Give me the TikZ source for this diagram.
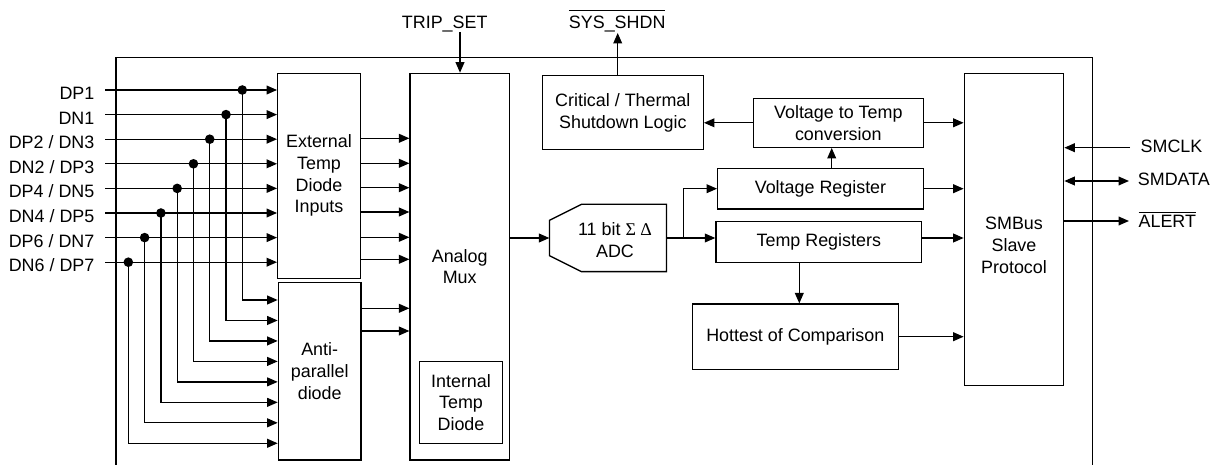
\documentclass[tikz,border=0pt]{standalone}
\usepackage{fontspec}
\setmainfont{Liberation Sans}
\newfontfamily\greekf{Liberation Serif}
\usetikzlibrary{arrows.meta}
\newcommand\ovl[2][2.5pt]{\vbox{\hrule height 1.2pt\kern#1\hbox{#2}}}
\begin{document}
\begin{tikzpicture}[x=1pt,y=-1pt,line width=1.3pt,
    font=\fontsize{17.9}{21.7}\selectfont,
    >={Triangle[length=10.5pt,width=8.8pt]},
    blk/.style 2 args={draw,align=center,inner sep=0pt,minimum width=#1pt,minimum height=#2pt},
    pin/.style={inner sep=0pt}]
  \useasboundingbox (0,0) rectangle (1219,465);
  \draw (116,465) |- (1092.7,57.3) -- (1092.7,465);
  \node[blk={82.6}{205}] (ext) at (319,175.8) {External\\Temp\\Diode\\Inputs};
  \node[blk={82.7}{177.7}] (anti) at (319.7,371.2) {Anti-\\parallel\\diode};
  \node[blk={99.3}{386.7}] (mux) at (459.7,266.7) {Analog\\Mux};
  \node[blk={83.4}{81.6}] (itd) at (461,402.5) {Internal\\Temp\\Diode};
  \node[blk={161}{74}] (crit) at (622.8,112.7) {Critical / Thermal\\Shutdown Logic};
  \node[blk={170}{49}] (v2t) at (838.3,122.8) {Voltage to Temp\\conversion};
  \node[blk={205.6}{40.7}] (vreg) at (820.5,188.7) {Voltage Register};
  \node[blk={205.7}{41}] (treg) at (818.8,242.2) {Temp Registers};
  \node[blk={206}{65.3}] (hot) at (795.3,336.7) {Hottest of Comparison};
  \node[blk={99.4}{312.4}] (smb) at (1014,229.5) {};
  \node[align=center] (smblab) at (1014,245.3) {SMBus\\Slave\\Protocol};
  \node[blk={115.7}{66},draw=none] (adc) at (607.9,238) {};
  \draw ([yshift=-16pt]adc.north west) -- ([xshift=32pt]adc.north west) -- (adc.north east)
    -- (adc.south east) -- ([xshift=32pt]adc.south west) -- ([yshift=16pt]adc.south west) -- cycle;
  \node[align=center] (adclab) at (615,240) {11 bit {\greekf Σ Δ}\\ADC};
  \foreach \lab [count=\i] in {DP1,DN1,{DP2 / DN3},{DN2 / DP3},{DP4 / DN5},{DN4 / DP5},{DP6 / DN7},{DN6 / DP7}}{
    \pgfmathsetmacro\yin{90+(\i-1)*24.6}
    \pgfmathsetmacro\yap{300+(\i-1)*20.47}
    \coordinate (in\i) at (105,\yin);
    \coordinate (dot\i) at ({242.3-(\i-1)*16.28},\yin);
    \coordinate (ap\i) at (anti.west |- 0,\yap);
    \node[pin,anchor=base east] (lab\i) at ([xshift=-10pt,yshift=-9.5pt]in\i) {\lab};
    \draw[->] (in\i) -- (in\i -| ext.west);
    \fill (dot\i) circle (4.8);
    \draw[->] (dot\i) |- (ap\i);
  }
  \foreach \y in {138.3,163.3,187.7,212,237.3,259.3}
    \draw[->] (ext.east |- 0,\y) -- (mux.west |- 0,\y);
  \foreach \y in {308.3,331}
    \draw[->] (anti.east |- 0,\y) -- (mux.west |- 0,\y);
  \node[pin,anchor=base] (trip) at (444.7,28.3) {TRIP\_SET};
  \coordinate (tripin) at (460,32);
  \draw[->] (tripin) -- (tripin |- mux.north);
  \node[pin,anchor=base] (shdn) at (617.2,28.3) {\ovl[5pt]{SYS\_SHDN}};
  \coordinate (shdnin) at (617.7,33);
  \draw[->] (shdnin |- crit.north) -- (shdnin);
  \draw[->] (mux.east |- adc.west) -- (adc.west);
  \coordinate (split) at ([xshift=17pt]adc.east);
  \draw[->] (adc.east) -- (adc.east -| treg.west);
  \draw[->] (split) |- (vreg.west);
  \coordinate (vup) at ([xshift=11.2pt]vreg.north);
  \draw[->] (vup) -- (vup |- v2t.south);
  \draw[->] (v2t.west) -- (v2t.west -| crit.east);
  \coordinate (hotin) at ([xshift=4pt]hot.north);
  \draw[->] (hotin |- treg.south) -- (hotin);
  \draw[->] (v2t.east) -- (v2t.east -| smb.west);
  \draw[->] (vreg.east) -- (vreg.east -| smb.west);
  \draw[->] (adc.east -| treg.east) -- (adc.east -| smb.west);
  \draw[->] (hot.east) -- (hot.east -| smb.west);
  \coordinate (clk) at (1130,147.7);
  \coordinate (dat) at (1129,181);
  \coordinate (alt) at (1129,221);
  \node[pin,anchor=base west] (clklab) at (1140,152.7) {SMCLK};
  \node[pin,anchor=base west] (datlab) at (1137.3,186) {SMDATA};
  \node[pin,anchor=base west] (altlab) at (1138,227.7) {\ovl{ALERT}};
  \draw[->] (clk) -- (clk -| smb.east);
  \draw[<->] (dat -| smb.east) -- (dat);
  \draw[->] (alt -| smb.east) -- (alt);
\end{tikzpicture}
\end{document}
